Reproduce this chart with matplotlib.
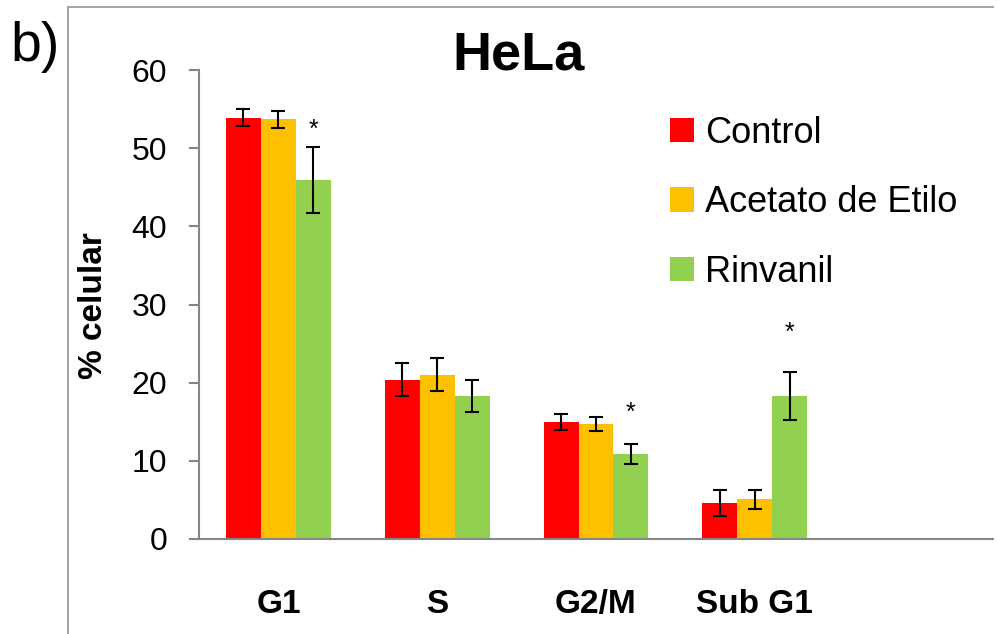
import matplotlib
matplotlib.use("Agg")
import matplotlib.pyplot as plt
import numpy as np
from matplotlib.lines import Line2D

# --- dados (ciclo celular, HeLa)
fases = ["G1", "S", "G2/M", "Sub G1", ""]
series = ["Control", "Acetato de Etilo", "Rinvanil"]
control = [53.9, 20.4, 15.0, 4.6]
control_err = [1.1, 2.1, 1.0, 1.7]
acetato = [53.7, 21.0, 14.7, 5.1]
acetato_err = [1.1, 2.1, 0.9, 1.2]
rinvanil = [45.9, 18.3, 10.9, 18.3]
rinvanil_err = [4.2, 2.0, 1.3, 3.05]
# posição vertical dos asteriscos (significância) sobre Rinvanil
estrelas = [52.3, None, 16.1, 26.4]

cores = ["#FF0000", "#FFC000", "#92D050"]

regular = ["Liberation Sans", "DejaVu Sans"]
negrito = ["Liberation Sans", "DejaVu Sans"]

fig = plt.figure(figsize=(9.98, 6.34), dpi=100)
ax = fig.add_axes([199 / 998, 1 - 539 / 634, (993 - 199) / 998, (539 - 70) / 634])

x = np.arange(len(fases))
w = 0.22
dados = [(control, control_err), (acetato, acetato_err), (rinvanil, rinvanil_err)]
handles = []
for i, (vals, errs) in enumerate(dados):
    pos = x[:len(vals)] + (i - 1) * w
    b = ax.bar(pos, vals, w, color=cores[i], label=series[i])
    ax.errorbar(pos, vals, yerr=errs, fmt="none", ecolor="black",
                elinewidth=1.5, capsize=5, capthick=1.5)
    handles.append(b)

for j, e in enumerate(estrelas):
    if e is not None:
        ax.text(x[j] + w, e, "*", ha="center", va="center",
                fontsize=18, family=regular)

ax.set_xlim(-0.5, len(fases) - 0.5)
ax.set_ylim(0, 60)
ax.set_yticks(range(0, 61, 10))
ax.set_xticks(x)
ax.set_xticklabels(fases, family=negrito, fontweight="bold", fontsize=24)
for lab in ax.get_yticklabels():
    lab.set_family(regular)
    lab.set_fontsize(23)
ax.tick_params(axis="y", length=7, width=1.5, color="#868686", pad=16)
ax.tick_params(axis="x", length=0, pad=36)
for s in ["top", "right"]:
    ax.spines[s].set_visible(False)
for s in ["left", "bottom"]:
    ax.spines[s].set_color("#868686")
    ax.spines[s].set_linewidth(1.5)

fig.text(519 / 998, 1 - 55 / 634, "HeLa", ha="center", va="center",
         fontsize=39, fontweight="bold", family=negrito)
fig.text(94 / 998, 1 - 306 / 634, "% celular", ha="center", va="center",
         rotation=90, fontsize=24, fontweight="bold", family=negrito)
fig.text(10 / 998, 1 - 47 / 634, "b)", ha="left", va="center",
         fontsize=40, family=regular)

ax.legend(handles=handles, loc="upper left",
          bbox_to_anchor=(670 / 998, 1 - 116 / 634), bbox_transform=fig.transFigure,
          frameon=False, prop={"family": regular, "size": 26},
          handlelength=0.66, handleheight=0.66, handletextpad=0.3,
          labelspacing=0.95, borderpad=0, borderaxespad=0)

# moldura parcial (esquerda e topo)
fig.add_artist(Line2D([68 / 998, 68 / 998], [0, 1 - 7 / 634],
                      transform=fig.transFigure, color="#a6a6a6", lw=1.5))
fig.add_artist(Line2D([68 / 998, 993 / 998], [1 - 7 / 634, 1 - 7 / 634],
                      transform=fig.transFigure, color="#a6a6a6", lw=1.5))

fig.savefig("out.png", dpi=100)
